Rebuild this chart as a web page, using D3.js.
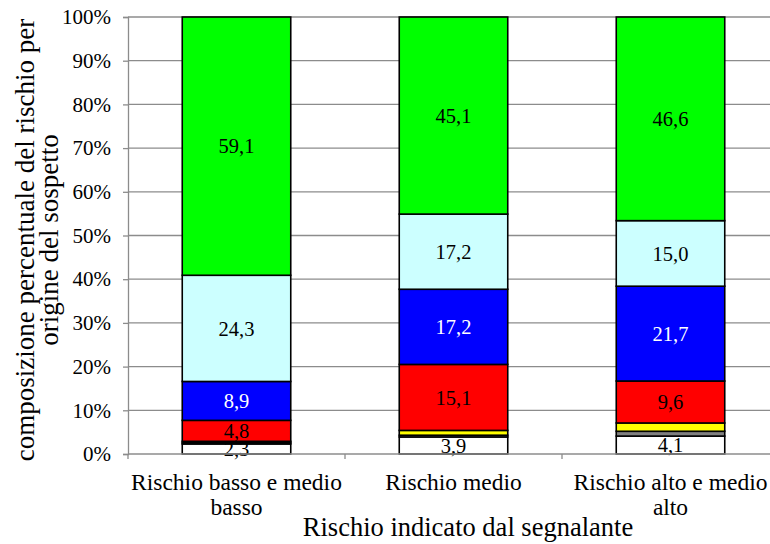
<!DOCTYPE html>
<html>
<head>
<meta charset="utf-8">
<script src="https://cdn.jsdelivr.net/npm/d3@7"></script>
<style>
  html, body { margin: 0; padding: 0; background: #fff; }
  svg { display: block; }
</style>
</head>
<body>
<svg id="chart" width="770" height="544"></svg>
<script>
// Risk categories reported by the signalling party
const categories = [
  ["Rischio basso e medio", "basso"],
  ["Rischio medio"],
  ["Rischio alto e medio", "alto"]
];

// Stacked series, bottom to top (percent of each bar)
const seriesNames = ["s1", "s2", "s3", "s4", "s5", "s6", "s7"];
const s1 = [2.3, 3.9, 4.1];    // white
const s2 = [0.3, 0.4, 1.1];    // grey
const s3 = [0.3, 1.1, 1.9];    // yellow
const s4 = [4.8, 15.1, 9.6];   // red
const s5 = [8.9, 17.2, 21.7];  // blue
const s6 = [24.3, 17.2, 15.0]; // light cyan
const s7 = [59.1, 45.1, 46.6]; // green
const seriesValues = [s1, s2, s3, s4, s5, s6, s7];
const labelled = [true, false, false, true, true, true, true];

const yTicks = [0, 10, 20, 30, 40, 50, 60, 70, 80, 90, 100];

const colors = ["#ffffff", "#808080", "#ffff00", "#ff0000", "#0000ff", "#ccffff", "#00ff00"];
const textColors = ["#000", "#000", "#000", "#000", "#fff", "#000", "#000"];

const FONT = "'Liberation Serif', 'Times New Roman', Times, serif";

const svg = d3.select("#chart");
const chartWidth = 770;
const plotLeft = 128, plotTop = 17;
const plotBottom = 454;
const bandWidth = 217;

const x = d3.scaleBand()
  .domain(d3.range(categories.length))
  .range([plotLeft, plotLeft + bandWidth * categories.length])
  .paddingInner(0.5).paddingOuter(0.25);

const y = d3.scaleLinear().domain([0, 100]).range([plotBottom, plotTop]);

function txt(sel, size, color) {
  return sel.style("font-family", FONT).style("font-size", size + "px").style("fill", color || "#000");
}

// Horizontal gridlines
svg.append("g")
  .selectAll("line")
  .data(yTicks.filter(t => t > 0))
  .join("line")
  .attr("x1", plotLeft).attr("x2", chartWidth)
  .attr("y1", d => y(d)).attr("y2", d => y(d))
  .attr("stroke", "#8c8c8c").attr("stroke-width", 1.3);

// Stack data
const rows = categories.map((c, i) => {
  const o = { i };
  seriesNames.forEach((n, k) => { o[n] = seriesValues[k][i]; });
  return o;
});
const stack = d3.stack().keys(seriesNames)(rows);

const layers = svg.append("g").selectAll("g")
  .data(stack)
  .join("g")
  .attr("fill", (d, k) => colors[k]);

layers.selectAll("rect")
  .data(d => d)
  .join("rect")
  .attr("x", d => x(d.data.i))
  .attr("width", x.bandwidth())
  .attr("y", d => y(d[1]))
  .attr("height", d => y(d[0]) - y(d[1]))
  .attr("stroke", "#000")
  .attr("stroke-width", 1.6);

// Value labels
const fmt = v => v.toFixed(1).replace(".", ",");
stack.forEach((layer, k) => {
  if (!labelled[k]) return;
  const t = svg.append("g").selectAll("text")
    .data(layer)
    .join("text")
    .attr("x", d => x(d.data.i) + x.bandwidth() / 2)
    .attr("y", d => (y(d[0]) + y(d[1])) / 2)
    .attr("dy", "0.35em")
    .attr("text-anchor", "middle")
    .text(d => fmt(d.data[seriesNames[k]]));
  txt(t, 20.5, textColors[k]);
});

// Y axis
const yAxis = svg.append("g")
  .attr("transform", `translate(${plotLeft},0)`)
  .call(d3.axisLeft(y).tickValues(yTicks).tickFormat(d => d + "%").tickSize(5).tickPadding(12));
yAxis.select(".domain").attr("stroke", "#8c8c8c").attr("stroke-width", 1.3);
yAxis.selectAll(".tick line").attr("stroke", "#8c8c8c").attr("stroke-width", 1.3);
txt(yAxis.selectAll(".tick text"), 21);

// X axis line with band boundary ticks
svg.append("line")
  .attr("x1", plotLeft).attr("x2", chartWidth)
  .attr("y1", plotBottom).attr("y2", plotBottom)
  .attr("stroke", "#8c8c8c").attr("stroke-width", 1.3);
svg.append("g").selectAll("line")
  .data(d3.range(categories.length + 1))
  .join("line")
  .attr("x1", d => plotLeft + d * bandWidth)
  .attr("x2", d => plotLeft + d * bandWidth)
  .attr("y1", plotBottom).attr("y2", plotBottom + 5)
  .attr("stroke", "#8c8c8c").attr("stroke-width", 1.3);

// Category labels
const catText = svg.append("g").selectAll("text")
  .data(categories)
  .join("text")
  .attr("x", (d, i) => x(i) + x.bandwidth() / 2)
  .attr("y", 490)
  .attr("text-anchor", "middle");
txt(catText, 23.5);
catText.selectAll("tspan")
  .data(d => d)
  .join("tspan")
  .attr("x", function () { return this.parentNode.getAttribute("x"); })
  .attr("dy", (d, j) => j === 0 ? 0 : 25)
  .text(d => d);

// Axis titles
txt(svg.append("text")
  .attr("x", 468).attr("y", 536)
  .attr("text-anchor", "middle")
  .text("Rischio indicato dal segnalante"), 26.5);

const yTitle = svg.append("text")
  .attr("transform", "translate(34,240) rotate(-90)")
  .attr("text-anchor", "middle");
txt(yTitle, 27);
yTitle.append("tspan").attr("x", 0).attr("dy", 0).text("composizione percentuale del rischio per");
yTitle.append("tspan").attr("x", 0).attr("dy", 24).text("origine del sospetto");
</script>
</body>
</html>
